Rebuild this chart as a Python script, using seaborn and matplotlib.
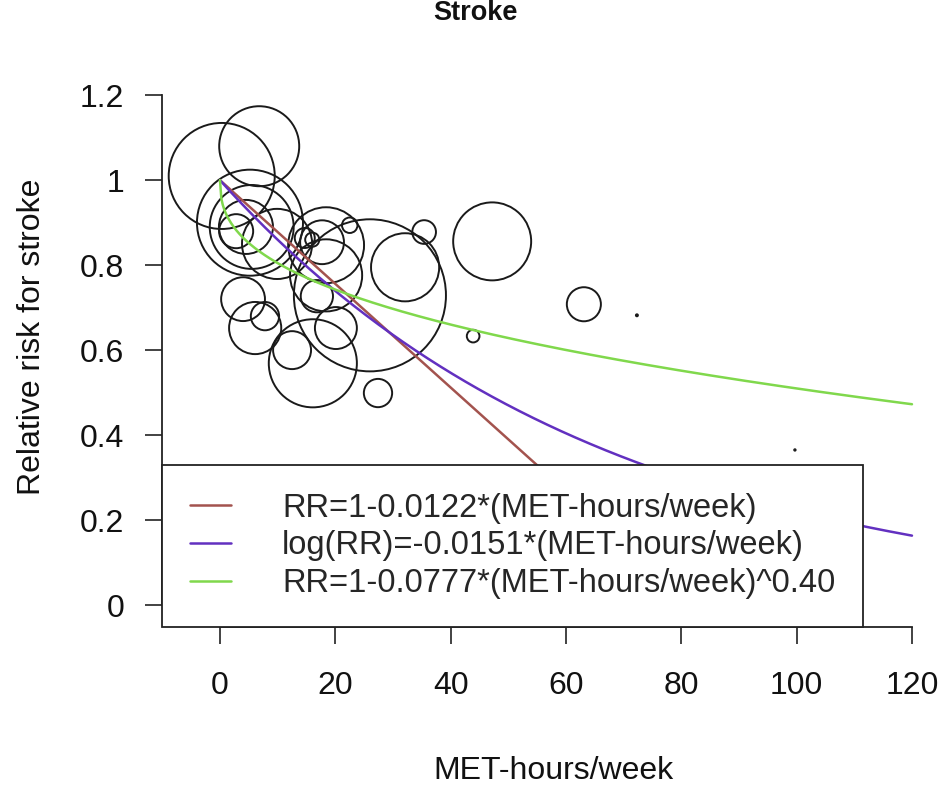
import numpy as np
import pandas as pd
import matplotlib
matplotlib.use("Agg")
import matplotlib.pyplot as plt
import seaborn as sns

# Study-level estimates: mean activity level, relative risk, relative study weight
met_hours = [0.3, 6.8, 5.2, 2.8, 5.5, 4.5, 9.9, 18.4, 17.7, 14.7, 16.0, 22.5,
             18.4, 26.0, 32.1, 35.4, 47.2, 43.9, 63.1, 72.3, 99.7, 27.4,
             4.0, 6.1, 7.8, 12.5, 16.1, 16.8, 20.1]
rel_risk = [1.01, 1.08, 0.90, 0.88, 0.89, 0.89, 0.85, 0.847, 0.854, 0.864, 0.86, 0.894,
            0.776, 0.729, 0.795, 0.878, 0.856, 0.633, 0.708, 0.682, 0.365, 0.499,
            0.72, 0.652, 0.68, 0.60, 0.569, 0.727, 0.652]
weight = [28.1, 16.0, 28.1, 2.9, 17.6, 7.3, 12.3, 14.4, 4.8, 1.0, 0.5, 0.6,
          13.0, 57.8, 11.6, 1.4, 15.2, 0.4, 2.9, 0.01, 0.005, 2.0,
          4.8, 6.8, 2.0, 3.6, 19.4, 2.6, 4.4]

# Fitted dose-response models
slope_linear = 0.0122
slope_log = 0.0151
coef_power = 0.0777
exp_power = 0.40
x_max = 120

model_labels = ["RR=1-0.0122*(MET-hours/week)",
                "log(RR)=-0.0151*(MET-hours/week)",
                "RR=1-0.0777*(MET-hours/week)^0.40"]
model_colors = ["#a3534e", "#6230c0", "#80d84c"]

x_ticks = [0, 20, 40, 60, 80, 100, 120]
x_tick_labels = ["0", "20", "40", "60", "80", "100", "120"]
y_ticks = [0, 0.2, 0.4, 0.6, 0.8, 1.0, 1.2]
y_tick_labels = ["0", "0.2", "0.4", "0.6", "0.8", "1", "1.2"]

sns.set_theme(style="ticks")
plt.rcParams["font.family"] = ["Liberation Sans", "DejaVu Sans"]

fig = plt.figure(figsize=(9.41, 7.89), dpi=100)
ax = fig.add_axes([0.1725, 0.2053, 0.8273, 0.7009])
ax.set_facecolor("white")

# Bubbles: marker area proportional to study weight
studies = pd.DataFrame({"met": met_hours, "rr": rel_risk, "w": weight})
sns.scatterplot(data=studies, x="met", y="rr", s=studies["w"] * 207.4,
                marker="o", facecolors="none", edgecolor="#1a1a1a",
                linewidth=1.4, legend=False, ax=ax, zorder=2)

# Model curves
grid = np.linspace(0, x_max, 500)
curves = pd.DataFrame({
    "met": grid,
    model_labels[0]: 1 - slope_linear * grid,
    model_labels[1]: np.exp(-slope_log * grid),
    model_labels[2]: 1 - coef_power * grid ** exp_power,
})
long = curves.melt(id_vars="met", var_name="model", value_name="rr")
sns.lineplot(data=long, x="met", y="rr", hue="model", hue_order=model_labels,
             palette=dict(zip(model_labels, model_colors)), linewidth=1.8,
             ax=ax, zorder=3)

ax.set_xlim(-10, 125)
ax.set_ylim(-0.0518, 1.25)

sns.despine(ax=ax)
for side in ("left", "bottom"):
    ax.spines[side].set_linewidth(1.3)
    ax.spines[side].set_color("#222222")
ax.spines["left"].set_bounds(0, 1.2)
ax.spines["bottom"].set_bounds(0, 120)

ax.set_xticks(x_ticks)
ax.set_xticklabels(x_tick_labels)
ax.set_yticks(y_ticks)
ax.set_yticklabels(y_tick_labels)
ax.tick_params(axis="both", direction="out", length=12.5, width=1.2,
               color="#222222", labelsize=23, labelcolor="#111111")
ax.tick_params(axis="x", pad=19)
ax.tick_params(axis="y", pad=15)

ax.set_xlabel("MET-hours/week", fontsize=23, color="#111111", va="center")
ax.xaxis.set_label_coords(0.502, -0.26)
ax.set_ylabel("Relative risk for stroke", fontsize=23, color="#111111", va="center")
ax.yaxis.set_label_coords(-0.167, 0.524)

sns.move_legend(ax, "lower left", bbox_to_anchor=(0, 0), title=None,
                frameon=True, fancybox=False, framealpha=1, edgecolor="#222222",
                fontsize=23.5, handlelength=1.25, handletextpad=1.56,
                borderpad=0.86, labelspacing=0.2, borderaxespad=0)
leg = ax.get_legend()
leg.get_frame().set_linewidth(1.3)
leg.set_zorder(5)

fig.text(0.505, 1 - 20 / 789, "Stroke", ha="center", va="baseline",
         fontsize=19.5, fontweight="bold", color="#111111")

fig.savefig("out.png", dpi=100, facecolor="white")
